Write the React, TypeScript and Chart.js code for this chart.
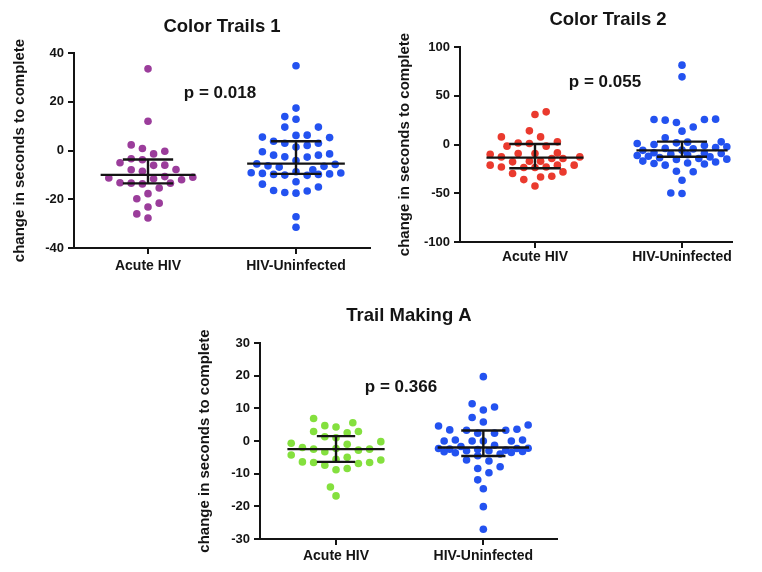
import React, { useEffect, useRef } from 'react';
import { Chart, registerables } from 'chart.js';

Chart.register(...registerables);

const FONT = "'Liberation Sans', Arial, Helvetica, sans-serif";
const INK = '#141414';

// ---------- data ----------
const CATEGORIES = ['Acute HIV', 'HIV-Uninfected'];
const TITLES = ['Color Trails 1', 'Color Trails 2', 'Trail Making A'];
const P_VALUES = ['p = 0.018', 'p = 0.055', 'p = 0.366'];
const Y_LABEL = 'change in seconds to complete';

const CT1_TICKS = [-40, -20, 0, 20, 40];
const CT1_ACUTE = [33.5, 12, 2.3, 0.8, -0.3, -1.4, -3.4, -3.8, -5, -6.1, -6, -7.9, -7.8, -8.5, -10.7,
  -11.3, -11.6, -13.4, -13.4, -13.7, -13.2, -12, -11, -15.4, -17.7, -19.8, -21.6, -23.2, -26, -27.7];
const CT1_UNINFECTED = [34.8, 17.4, 12.8, 13.9, 9.6, 9.6, 6.2, 5.3, 5.5, 6.3, 2.1, 3, 3, 3.8, 1.4, -0.5,
  -1.9, -2.7, -1.9, -1.4, -2.6, -4.1, -5.5, -6.5, -6.8, -6.3, -5.7, -8.7, -9.2, -9.8, -10.1, -9.4, -10.2,
  -9.8, -9.6, -9.1, -7.9, -13.8, -12.8, -16.4, -17.2, -17.5, -16.6, -15, -27.2, -31.5];
const CT1_MEDIAN = [-10, -5.4];
const CT1_UPPER = [-3.7, 3.8];
const CT1_LOWER = [-13.5, -9.6];

const CT2_TICKS = [-100, -50, 0, 50, 100];
const CT2_ACUTE = [33.5, 30.8, 14, 7.8, 7.8, 1.6, -1.7, -1.7, 1, 2.7, -8.6, -9.2, -12.7, -14.4, -17.1,
  -17.8, -17.1, -14.4, -12.7, -10, -9.2, -21.2, -23.6, -21.2, -23, -21.2, -23.6, -23, -33.3, -28.1,
  -29.8, -32.5, -36, -42.5];
const CT2_UNINFECTED = [81.4, 69.4, 26, 25.6, 25.6, 25, 22.6, 18, 13.7, 6.8, 2.7, 2.4, 1.7, 1, 0, -1,
  -2.4, -3, -4, -4.5, -5.8, -6, -8.5, -9, -9.2, -9.9, -10.5, -11.3, -12, -12.7, -13.5, -14.4, -15, -15.4,
  -17, -18, -19.5, -20, -21.2, -19, -28, -27.4, -36.6, -50.3, -49.7];
const CT2_MEDIAN = [-13.5, -6];
const CT2_UPPER = [0.5, 3];
const CT2_LOWER = [-24.3, -12.5];

const TMA_TICKS = [-30, -20, -10, 0, 10, 20, 30];
const TMA_ACUTE = [6.9, 4.7, 4.3, 5.6, 2.9, 2.5, 2.9, 1.0, 1.3, -0.7, -1, -0.2, -2.3, -2.5, -3.3, -2.8,
  -2.5, -2, -5, -4.3, -5.6, -6.4, -6.9, -8.4, -8.8, -7.4, -6.6, -6.6, -5.8, -14.1, -16.8];
const TMA_UNINFECTED = [19.7, 11.4, 9.5, 10.4, 7.2, 5.8, 3.4, 3.3, 2.4, 4.6, 2.4, 3.3, 3.6, 4.9, 0.3, 0,
  0, -1.3, -1.7, 0, 0, 0.3, -2.2, -2.3, -2.5, -2.8, -3, -3.2, -3.5, -4.5, -4, -3.6, -3.3, -3, -2.6, -2.3,
  -6.1, -5.8, -8.4, -7.9, -9.7, -11.9, -14.6, -20.1, -27];
const TMA_MEDIAN = [-2.5, -2];
const TMA_UPPER = [1.5, 3.2];
const TMA_LOWER = [-6.4, -4.6];

// ---------- styling / layout ----------
const PURPLE = '#9b3d9b';
const BLUE = '#2352f0';
const RED = '#ea3a2e';
const GREEN = '#84e03e';

type Panel = {
  title: string; p: string; ticks: number[]; groups: number[][]; colors: string[];
  median: number[]; upper: number[]; lower: number[];
  box: { left: number; top: number; width: number; height: number };
  area: { left: number; top: number; right: number; bottom: number };
  xRange: [number, number];
  titlePos: [number, number]; pPos: [number, number];
  yTitlePad: number; xLabelPad: number; medianHalf: number[]; whiskerHalf: number[];
};

const PANELS: Panel[] = [
  {
    title: TITLES[0], p: P_VALUES[0], ticks: CT1_TICKS, groups: [CT1_ACUTE, CT1_UNINFECTED],
    colors: [PURPLE, BLUE], median: CT1_MEDIAN, upper: CT1_UPPER, lower: CT1_LOWER,
    box: { left: 0, top: 0, width: 380, height: 285 },
    area: { left: 74, top: 53, right: 370, bottom: 248 }, xRange: [0.5, 2.5],
    titlePos: [222, 32], pPos: [220, 98], yTitlePad: 11, xLabelPad: 4,
    medianHalf: [0.32, 0.33], whiskerHalf: [0.17, 0.17],
  },
  {
    title: TITLES[1], p: P_VALUES[1], ticks: CT2_TICKS, groups: [CT2_ACUTE, CT2_UNINFECTED],
    colors: [RED, BLUE], median: CT2_MEDIAN, upper: CT2_UPPER, lower: CT2_LOWER,
    box: { left: 380, top: 0, width: 382, height: 285 },
    area: { left: 80, top: 47, right: 352, bottom: 242 }, xRange: [0.49, 2.34],
    titlePos: [228, 25], pPos: [225, 87], yTitlePad: 16, xLabelPad: 1,
    medianHalf: [0.33, 0.31], whiskerHalf: [0.175, 0.17],
  },
  {
    title: TITLES[2], p: P_VALUES[2], ticks: TMA_TICKS, groups: [TMA_ACUTE, TMA_UNINFECTED],
    colors: [GREEN, BLUE], median: TMA_MEDIAN, upper: TMA_UPPER, lower: TMA_LOWER,
    box: { left: 180, top: 290, width: 400, height: 282 },
    area: { left: 80, top: 53, right: 377, bottom: 249 }, xRange: [0.484, 2.5],
    titlePos: [229, 31], pPos: [221, 102], yTitlePad: 16, xLabelPad: 3,
    medianHalf: [0.33, 0.31], whiskerHalf: [0.13, 0.15],
  },
];

// GraphPad-like dot spreading: ascending order, closest free slot to the centre
function spread(values: number[], toPx: (v: number) => number, step: number, minDist: number, maxHalf: number): number[] {
  const order = values.map((_, i) => i).sort((a, b) => values[a] - values[b]);
  const placed: { x: number; y: number }[] = [];
  const out = new Array(values.length).fill(0);
  let preferLeft = true;
  const kMax = Math.floor(maxHalf / step);
  for (const i of order) {
    const py = toPx(values[i]);
    let best: number | null = null;
    let fallback = 0;
    let fallbackScore = -1;
    for (let k = 0; k <= kMax && best === null; k++) {
      const cands = k === 0 ? [0] : preferLeft ? [-k * step, k * step] : [k * step, -k * step];
      for (const cx of cands) {
        let minD = Infinity;
        for (const p of placed) {
          const d = Math.hypot(p.x - cx, p.y - py);
          if (d < minD) minD = d;
        }
        if (minD >= minDist) { best = cx; break; }
        if (minD > fallbackScore) { fallbackScore = minD; fallback = cx; }
      }
    }
    const x = best === null ? fallback : best;
    if (x !== 0) preferLeft = x > 0;
    placed.push({ x, y: py });
    out[i] = x;
  }
  return out;
}

const textPlugin = {
  id: 'panelText',
  afterDraw(chart: any, _args: any, opts: any) {
    const ctx = chart.ctx;
    ctx.save();
    ctx.fillStyle = INK;
    ctx.textAlign = 'center';
    ctx.textBaseline = 'alphabetic';
    for (const t of opts.items || []) {
      ctx.font = `bold ${t.size}px ${FONT}`;
      ctx.fillText(t.text, t.x, t.y);
    }
    ctx.restore();
  },
};

function segment(x0: number, x1: number, y0: number, y1: number) {
  return {
    data: [{ x: x0, y: y0 }, { x: x1, y: y1 }],
    showLine: true,
    borderColor: INK,
    borderWidth: 2.4,
    pointRadius: 0,
    pointHoverRadius: 0,
    order: 0,
    clip: false as any,
  };
}

function PanelChart({ spec }: { spec: Panel }) {
  const ref = useRef<HTMLCanvasElement | null>(null);
  useEffect(() => {
    const canvas = ref.current;
    if (!canvas) return;
    const { box, area } = spec;
    const datasets: any[] = [];
    const dotIndex: number[] = [];
    spec.groups.forEach((vals, gi) => {
      const c = gi + 1;
      dotIndex.push(datasets.length);
      datasets.push({
        data: vals.map((v) => ({ x: c, y: v })),
        backgroundColor: spec.colors[gi],
        borderColor: spec.colors[gi],
        pointBorderWidth: 0,
        pointRadius: 3.8,
        pointHoverRadius: 3.8,
        order: 1,
        clip: false,
      });
    });
    spec.groups.forEach((_, gi) => {
      const c = gi + 1;
      const mh = spec.medianHalf[gi];
      const wh = spec.whiskerHalf[gi];
      datasets.push(segment(c - mh, c + mh, spec.median[gi], spec.median[gi]));
      datasets.push(segment(c - wh, c + wh, spec.upper[gi], spec.upper[gi]));
      datasets.push(segment(c - wh, c + wh, spec.lower[gi], spec.lower[gi]));
      datasets.push(segment(c, c, spec.upper[gi], spec.lower[gi]));
    });
    const ticks = spec.ticks;
    const axisGrid = {
      display: true, drawOnChartArea: false, drawTicks: true, tickLength: 6, color: INK, lineWidth: 2,
    };
    const chart = new Chart(canvas, {
      type: 'scatter',
      data: { datasets },
      plugins: [textPlugin as any],
      options: {
        animation: false,
        responsive: false,
        events: [],
        layout: { padding: { left: 0, top: area.top, right: box.width - area.right, bottom: 0 } },
        plugins: {
          legend: { display: false },
          tooltip: { enabled: false },
          title: { display: false },
          panelText: {
            items: [
              { text: spec.title, x: spec.titlePos[0], y: spec.titlePos[1], size: 18.5 },
              { text: spec.p, x: spec.pPos[0], y: spec.pPos[1], size: 17 },
            ],
          },
        } as any,
        scales: {
          x: {
            type: 'linear',
            min: spec.xRange[0],
            max: spec.xRange[1],
            afterBuildTicks: (s: any) => { s.ticks = CATEGORIES.map((_, i) => ({ value: i + 1 })); },
            afterFit: (s: any) => { s.height = box.height - area.bottom; },
            grid: axisGrid,
            border: { display: true, color: INK, width: 2 },
            ticks: {
              autoSkip: false, maxRotation: 0, padding: spec.xLabelPad, color: INK,
              font: { family: FONT, size: 14, weight: 'bold' },
              callback: (v: any) => CATEGORIES[Math.round(Number(v)) - 1] ?? '',
            },
          },
          y: {
            type: 'linear',
            min: ticks[0],
            max: ticks[ticks.length - 1],
            afterBuildTicks: (s: any) => { s.ticks = ticks.map((t) => ({ value: t })); },
            afterFit: (s: any) => { s.width = area.left; },
            grid: axisGrid,
            border: { display: true, color: INK, width: 2 },
            ticks: { padding: 4, color: INK, font: { family: FONT, size: 13, weight: 'bold' } },
            title: {
              display: true, text: Y_LABEL, color: INK,
              font: { family: FONT, size: 15, weight: 'bold' },
              padding: { top: spec.yTitlePad, bottom: 0 },
            },
          },
        },
      } as any,
    });

    const ys: any = chart.scales.y;
    const xs: any = chart.scales.x;
    const pxPerUnit = xs.getPixelForValue(2) - xs.getPixelForValue(1);
    spec.groups.forEach((vals, gi) => {
      const offs = spread(vals, (v) => ys.getPixelForValue(v), 5.6, 10.2, 48);
      chart.data.datasets[dotIndex[gi]].data = vals.map((v, i) => ({ x: gi + 1 + offs[i] / pxPerUnit, y: v })) as any;
    });
    chart.update('none');
    return () => chart.destroy();
  }, [spec]);
  return (
    <canvas
      ref={ref}
      width={spec.box.width}
      height={spec.box.height}
      style={{ position: 'absolute', left: spec.box.left, top: spec.box.top, width: spec.box.width, height: spec.box.height }}
    />
  );
}

export default function App() {
  return (
    <div style={{ position: 'absolute', left: 0, top: 0, width: 762, height: 572, background: '#ffffff', overflow: 'hidden' }}>
      {PANELS.map((p) => (
        <PanelChart key={p.title} spec={p} />
      ))}
    </div>
  );
}
